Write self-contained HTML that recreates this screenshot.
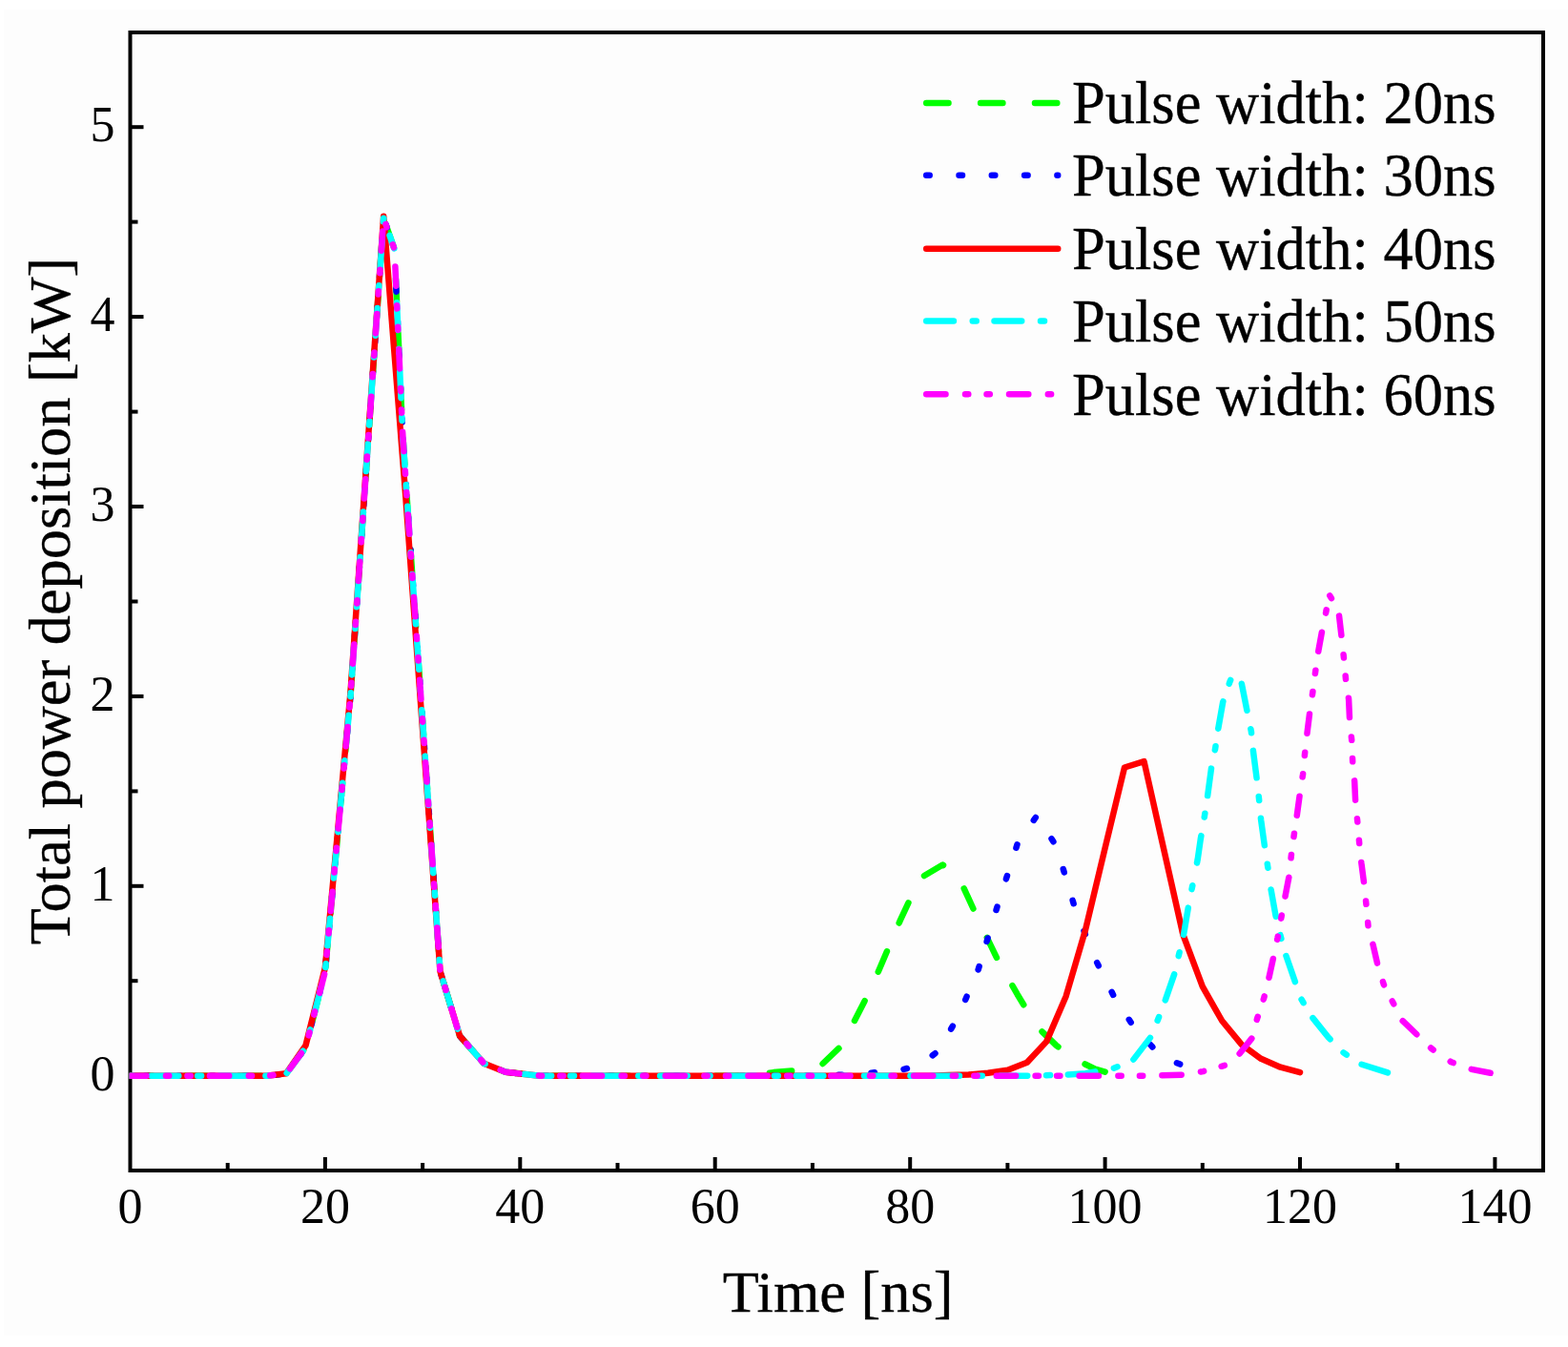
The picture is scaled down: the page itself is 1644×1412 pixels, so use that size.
<!DOCTYPE html>
<html><head><meta charset="utf-8"><title>Total power deposition vs time</title>
<style>
html,body{margin:0;padding:0;background:#fff;}
body{width:1644px;height:1412px;overflow:hidden;}
svg{display:block;}
text{font-family:"Liberation Serif","Times New Roman",serif;fill:#000;stroke:#000;stroke-width:0.35px;}
.tl text{font-size:52px;stroke-width:0;}
.lt{font-size:62.5px;}
.at{font-size:62.3px;}
</style></head><body>
<svg width="1644" height="1412" viewBox="0 0 1644 1412">
<rect x="0" y="0" width="1644" height="1412" fill="#fff"/>
<g>
<rect x="4" y="10" width="1640" height="1390" fill="#fdfdfd"/>
<g stroke="#000" stroke-width="4" fill="none">
<rect x="136.5" y="34.0" width="1481.5" height="1193.0" stroke-linejoin="miter"/>
<line x1="238.7" y1="1227.0" x2="238.7" y2="1219.0"/>
<line x1="340.9" y1="1227.0" x2="340.9" y2="1213.0"/>
<line x1="443.1" y1="1227.0" x2="443.1" y2="1219.0"/>
<line x1="545.3" y1="1227.0" x2="545.3" y2="1213.0"/>
<line x1="647.5" y1="1227.0" x2="647.5" y2="1219.0"/>
<line x1="749.7" y1="1227.0" x2="749.7" y2="1213.0"/>
<line x1="851.9" y1="1227.0" x2="851.9" y2="1219.0"/>
<line x1="954.2" y1="1227.0" x2="954.2" y2="1213.0"/>
<line x1="1056.4" y1="1227.0" x2="1056.4" y2="1219.0"/>
<line x1="1158.6" y1="1227.0" x2="1158.6" y2="1213.0"/>
<line x1="1260.8" y1="1227.0" x2="1260.8" y2="1219.0"/>
<line x1="1363.0" y1="1227.0" x2="1363.0" y2="1213.0"/>
<line x1="1465.2" y1="1227.0" x2="1465.2" y2="1219.0"/>
<line x1="1567.4" y1="1227.0" x2="1567.4" y2="1213.0"/>
<line x1="136.5" y1="1127.7" x2="150.5" y2="1127.7"/>
<line x1="136.5" y1="1028.2" x2="144.5" y2="1028.2"/>
<line x1="136.5" y1="928.8" x2="150.5" y2="928.8"/>
<line x1="136.5" y1="829.4" x2="144.5" y2="829.4"/>
<line x1="136.5" y1="729.9" x2="150.5" y2="729.9"/>
<line x1="136.5" y1="630.5" x2="144.5" y2="630.5"/>
<line x1="136.5" y1="531.0" x2="150.5" y2="531.0"/>
<line x1="136.5" y1="431.6" x2="144.5" y2="431.6"/>
<line x1="136.5" y1="332.1" x2="150.5" y2="332.1"/>
<line x1="136.5" y1="232.6" x2="144.5" y2="232.6"/>
<line x1="136.5" y1="133.2" x2="150.5" y2="133.2"/>
</g>
<defs><clipPath id="pa"><rect x="135.6" y="0" width="1490" height="1412"/></clipPath></defs>
<g fill="none" stroke-width="6.5" stroke-linecap="round" stroke-linejoin="round" clip-path="url(#pa)">
<polyline points="136.5,1127.7 279.6,1127.7 300.0,1125.7 320.5,1097.9 340.9,1018.3 367.5,729.9 402.2,228.7 413.3,260.5" stroke="#00ff00" stroke-dasharray="23.3 33.6" stroke-dashoffset="56.77"/>
<polyline points="414.3,277.4 414.3,277.4 421.9,449.5 426.3,517.1 461.5,1018.3 482.0,1085.9 507.5,1114.8 530.0,1123.7 550.4,1126.1 565.8,1127.7 770.2,1127.7 790.6,1126.7 811.1,1124.1 831.5,1122.5 841.7,1121.7 862.2,1115.4 882.6,1095.9 913.3,1036.2 936.3,982.4" stroke="#00ff00" stroke-dasharray="23.3 33.6" stroke-dashoffset="41.77"/>
<polyline points="936.3,982.4 943.9,964.6 964.4,920.8 988.4,906.5 1005.3,919.5 1025.7,964.0 1046.1,1006.2 1066.6,1042.2 1075.9,1057.6" stroke="#00ff00" stroke-dasharray="23.3 33.6" stroke-dashoffset="40.71"/>
<polyline points="1075.9,1057.6 1087.0,1076.0 1107.5,1095.9 1127.9,1110.8 1148.3,1120.7 1158.6,1123.7" stroke="#00ff00" stroke-dasharray="23.3 33.6" stroke-dashoffset="27.70"/>
<polyline points="136.5,1127.7 279.6,1127.7 300.0,1125.7 320.5,1097.9 340.9,1018.3 367.5,729.9 402.2,228.7 413.3,260.5" stroke="#0000ff" stroke-dasharray="3.5 30.8" stroke-dashoffset="18.39"/>
<polyline points="414.3,277.4 414.3,277.4 421.9,449.5 426.3,517.1 461.5,1018.3 482.0,1085.9 507.5,1114.8 530.0,1123.7 550.4,1126.1 565.8,1127.7 862.2,1127.7 882.6,1126.7 903.1,1125.7 923.5,1123.7 943.9,1121.7 964.4,1116.8 984.8,1100.8 1005.3,1064.1 1025.7,1016.3 1033.4,990.8" stroke="#0000ff" stroke-dasharray="3.5 30.8" stroke-dashoffset="9.49"/>
<polyline points="1033.4,990.8 1046.1,948.7 1066.6,885.0 1087.0,855.2 1107.5,887.0 1127.9,954.7 1143.9,994.3" stroke="#0000ff" stroke-dasharray="3.5 30.8" stroke-dashoffset="30.15"/>
<polyline points="1143.9,994.3 1148.3,1005.4 1168.8,1046.2 1189.2,1077.0 1209.7,1098.9 1230.1,1112.8 1240.3,1116.8" stroke="#0000ff" stroke-dasharray="3.5 30.8" stroke-dashoffset="18.16"/>
<polyline points="136.5,1127.7 279.6,1127.7 300.0,1125.3 320.5,1095.9 340.9,1014.3 367.5,725.9 402.2,226.7 425.1,517.9 461.5,1018.3 482.0,1085.9 507.5,1114.8 530.0,1123.7 550.4,1126.1 565.8,1127.7 974.6,1127.7 995.0,1127.1 1015.5,1126.5 1035.9,1124.7 1056.4,1121.7 1076.8,1113.8 1097.2,1091.9 1117.7,1044.2 1138.1,974.5 1158.6,889.0 1179.0,804.5 1199.5,798.1 1219.9,889.0 1240.3,979.5 1260.8,1034.2 1281.2,1070.0 1301.7,1094.9 1322.1,1109.8 1342.5,1118.7 1363.0,1124.1" stroke="#ff0000"/>
<polyline points="136.5,1127.7 279.6,1127.7 300.0,1125.7 320.5,1097.9 340.9,1018.3 367.5,729.9 402.2,228.7 413.3,260.5" stroke="#00ffff" stroke-dasharray="28.7 19.8 4 18.8" stroke-dashoffset="49.20"/>
<polyline points="414.3,277.4 414.3,277.4 421.9,449.5 426.3,517.1 461.5,1018.3 482.0,1085.9 507.5,1114.8 530.0,1123.7 550.4,1126.1 565.8,1127.7 1076.8,1127.7 1117.7,1126.7 1138.1,1125.3 1167.8,1119.7 1187.2,1112.2 1207.6,1085.7 1214.8,1066.8 1221.9,1048.1 1232.2,1018.3 1235.2,1004.4 1241.4,977.7 1246.5,947.3 1250.6,926.8 1253.0,914.4" stroke="#00ffff" stroke-dasharray="28.7 19.8 4 18.8" stroke-dashoffset="31.39"/>
<polyline points="1253.0,914.4 1255.7,901.0 1258.7,880.1 1262.8,856.2 1265.9,835.9 1270.0,805.5 1274.1,785.0 1277.1,764.7 1282.2,735.9 1289.4,714.8 1291.4,710.0 1295.5,708.0 1300.6,713.0 1301.7,716.0 1307.8,746.6 1311.9,766.9 1313.9,787.0 1318.0,818.8 1320.1,838.1 1322.1,859.4 1326.2,889.0 1329.3,908.9 1331.4,924.0" stroke="#00ffff" stroke-dasharray="28.7 19.8 4 18.8" stroke-dashoffset="61.20"/>
<polyline points="1331.4,924.0 1332.3,930.8 1337.4,959.2 1342.2,979.5 1347.7,999.8 1357.9,1029.2 1364.0,1046.7 1374.2,1064.3 1392.6,1087.3 1408.0,1103.0 1425.3,1115.0 1457.0,1125.1 1465.2,1125.7" stroke="#00ffff" stroke-dasharray="28.7 19.8 4 18.8" stroke-dashoffset="62.69"/>
<polyline points="136.5,1127.7 279.6,1127.7 300.0,1125.7 320.5,1097.9 340.9,1018.3 367.5,729.9 402.2,228.7 413.3,260.5" stroke="#ff00ff" stroke-dasharray="20.3 20.5 3.3 19.2 3.3 20.2" stroke-dashoffset="3.36"/>
<polyline points="414.3,277.4 414.3,277.4 421.9,449.5 426.3,517.1 461.5,1018.3 482.0,1085.9 507.5,1114.8 530.0,1123.7 550.4,1126.1 565.8,1127.7 1199.5,1127.7 1240.3,1126.7 1261.4,1123.1 1284.3,1116.8 1298.6,1105.8 1312.9,1087.9 1318.0,1068.0 1325.2,1046.2 1330.3,1025.7 1335.4,1002.4 1339.5,983.1 1343.6,960.6 1347.7,938.7 1351.7,917.9 1353.8,897.0 1356.9,874.1 1359.0,860.1" stroke="#ff00ff" stroke-dasharray="20.3 20.5 3.3 19.2 3.3 20.2" stroke-dashoffset="84.76"/>
<polyline points="1359.0,860.1 1359.9,854.0 1363.0,831.3 1366.1,811.4 1368.1,789.6 1370.6,767.7 1373.2,746.8 1376.3,725.9 1379.3,703.0 1382.4,681.8 1386.5,659.5 1390.6,640.0 1393.2,622.5 1396.7,628.5 1403.9,644.4 1406.9,670.2 1409.0,690.1 1411.0,712.0 1414.1,732.9 1415.1,755.2 1417.2,775.6 1418.2,798.7 1420.2,819.4 1421.2,841.3 1422.5,853.8" stroke="#ff00ff" stroke-dasharray="20.3 20.5 3.3 19.2 3.3 20.2" stroke-dashoffset="81.43"/>
<polyline points="1422.5,853.8 1423.3,861.6 1425.3,885.0 1427.4,904.9 1430.4,928.0 1432.5,948.7 1434.5,970.6 1439.6,990.5 1444.7,1012.7 1450.9,1032.2 1461.1,1052.1 1470.3,1069.8 1485.6,1084.5 1501.0,1099.3 1511.6,1106.5" stroke="#ff00ff" stroke-dasharray="20.3 20.5 3.3 19.2 3.3 20.2" stroke-dashoffset="36.33"/>
<polyline points="1511.6,1106.5 1521.4,1113.2 1540.8,1120.5 1564.3,1125.1 1567.4,1125.7" stroke="#ff00ff" stroke-dasharray="20.3 20.5 3.3 19.2 3.3 20.2" stroke-dashoffset="52.24"/>
</g>
<g class="tl">
<text x="136.5" y="1281.5" text-anchor="middle">0</text>
<text x="340.9" y="1281.5" text-anchor="middle">20</text>
<text x="545.3" y="1281.5" text-anchor="middle">40</text>
<text x="749.7" y="1281.5" text-anchor="middle">60</text>
<text x="954.2" y="1281.5" text-anchor="middle">80</text>
<text x="1158.6" y="1281.5" text-anchor="middle">100</text>
<text x="1363.0" y="1281.5" text-anchor="middle">120</text>
<text x="1567.4" y="1281.5" text-anchor="middle">140</text>
<text x="120.4" y="1142.8" text-anchor="end">0</text>
<text x="120.4" y="943.9" text-anchor="end">1</text>
<text x="120.4" y="745.0" text-anchor="end">2</text>
<text x="120.4" y="546.1" text-anchor="end">3</text>
<text x="120.4" y="347.2" text-anchor="end">4</text>
<text x="120.4" y="148.3" text-anchor="end">5</text>
</g>
<g fill="none" stroke-width="6.5" stroke-linecap="round">
<line x1="971.2" y1="107.9" x2="1109.2" y2="107.9" stroke="#00ff00" stroke-dasharray="23.3 33.6"/>
<text x="1124" y="129.4" class="lt">Pulse width: 20ns</text>
<line x1="971.2" y1="183.7" x2="1109.2" y2="183.7" stroke="#0000ff" stroke-dasharray="3.5 30.8"/>
<text x="1124" y="205.2" class="lt">Pulse width: 30ns</text>
<line x1="971.2" y1="260.7" x2="1109.2" y2="260.7" stroke="#ff0000"/>
<text x="1124" y="282.2" class="lt">Pulse width: 40ns</text>
<line x1="971.2" y1="336.5" x2="1109.2" y2="336.5" stroke="#00ffff" stroke-dasharray="28.7 19.8 4 18.8"/>
<text x="1124" y="358.0" class="lt">Pulse width: 50ns</text>
<line x1="971.2" y1="413.2" x2="1109.2" y2="413.2" stroke="#ff00ff" stroke-dasharray="20.3 20.5 3.3 19.2 3.3 20.2"/>
<text x="1124" y="434.7" class="lt">Pulse width: 60ns</text>
</g>
<text class="at" x="878.6" y="1375.4" text-anchor="middle">Time [ns]</text>
<text class="at" transform="translate(73,629.9) rotate(-90)" text-anchor="middle">Total power deposition [kW]</text>
</g>
</svg>
</body></html>
